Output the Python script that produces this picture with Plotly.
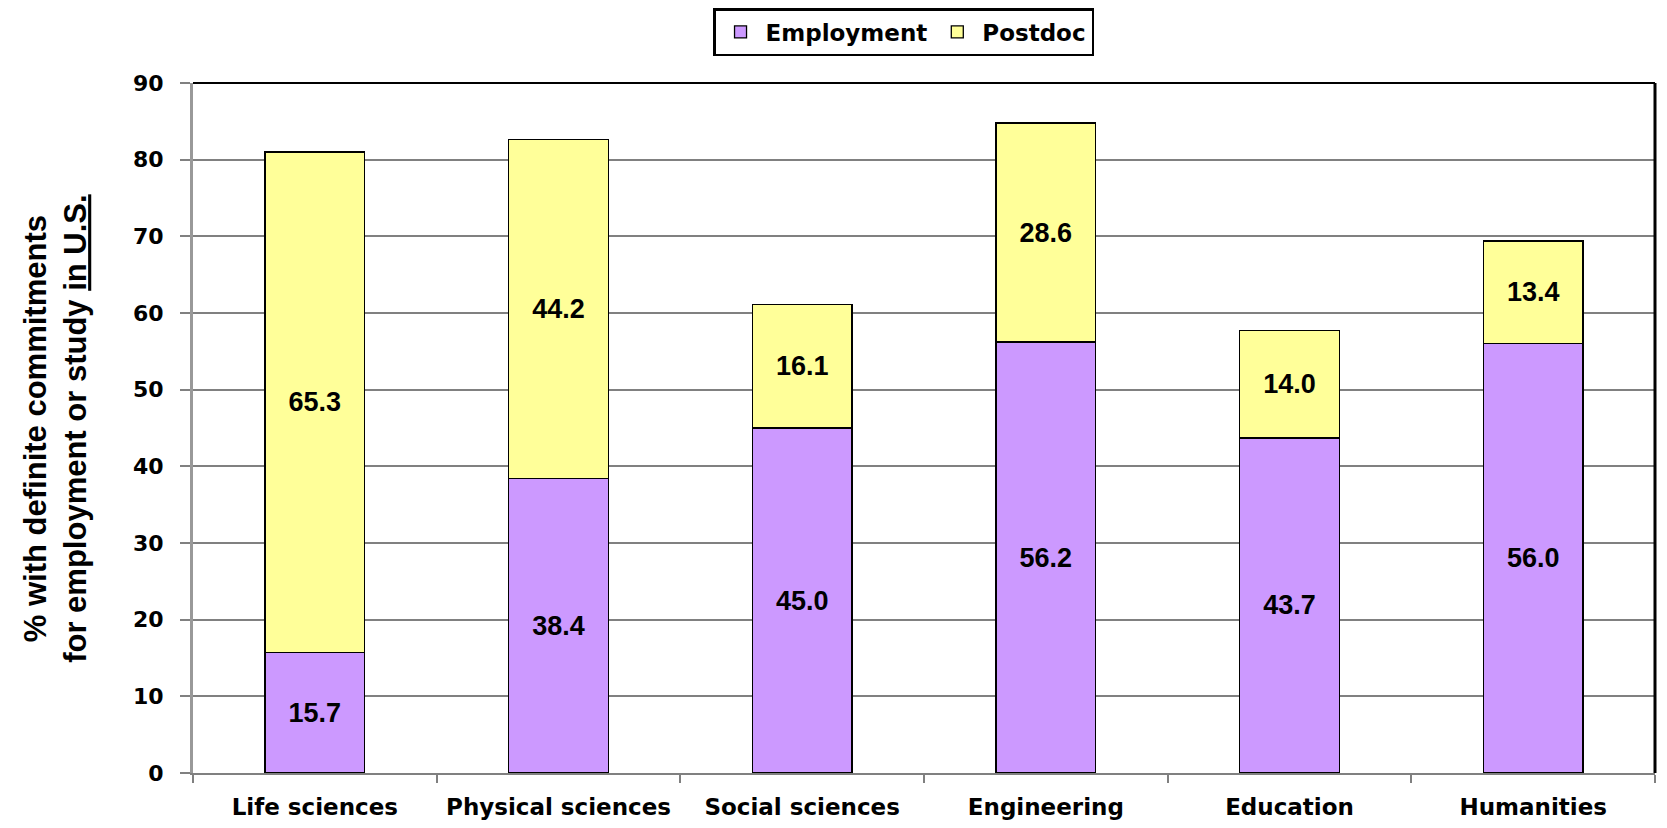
import plotly.graph_objects as go

categories = ["Life sciences", "Physical sciences", "Social sciences", "Engineering", "Education", "Humanities"]
employment = [15.7, 38.4, 45.0, 56.2, 43.7, 56.0]
postdoc = [65.3, 44.2, 16.1, 28.6, 14.0, 13.4]
y_ticks = [0, 10, 20, 30, 40, 50, 60, 70, 80, 90]

FONT = "Liberation Sans, Arial, sans-serif"
HEAVY = "DejaVu Sans, Verdana, sans-serif"
lbl = dict(family=FONT, size=27, color="black", weight="bold")

fig = go.Figure()
fig.add_trace(go.Bar(
    name="Employment", x=categories, y=employment,
    marker=dict(color="#CC99FF", line=dict(color="black", width=1.3)),
    texttemplate="%{y:.1f}", textposition="inside", insidetextanchor="middle",
    textfont=lbl, constraintext="none", textangle=0,
))
fig.add_trace(go.Bar(
    name="Postdoc", x=categories, y=postdoc,
    marker=dict(color="#FFFF99", line=dict(color="black", width=1.3)),
    texttemplate="%{y:.1f}", textposition="inside", insidetextanchor="middle",
    textfont=lbl, constraintext="none", textangle=0,
))

fig.update_layout(
    barmode="stack",
    bargap=0.59,
    width=1667, height=828,
    paper_bgcolor="white", plot_bgcolor="white",
    margin=dict(l=185, r=20, t=75, b=63, autoexpand=False),
    font=dict(family=FONT, color="black"),
    showlegend=True,
    legend=dict(
        orientation="h", x=0.486, xref="paper", xanchor="center",
        y=1.0, yref="container", yanchor="top",
        bordercolor="black", borderwidth=2.5, bgcolor="white",
        font=dict(family=HEAVY, size=23, color="black", weight="bold"),
        itemwidth=40, traceorder="normal",
    ),
    xaxis=dict(
        type="category", showgrid=False, showline=True, linecolor="#808080", linewidth=2,
        ticks="outside", tickson="boundaries", ticklen=8, tickcolor="#808080", tickwidth=2,
        tickfont=dict(family=HEAVY, size=23, color="black", weight="bold"),
        ticklabelstandoff=12, automargin=False,
    ),
    yaxis=dict(
        range=[0, 90], tickvals=y_ticks, showgrid=True, gridcolor="#808080", gridwidth=1.5,
        showline=True, linecolor="#999999", linewidth=3,
        ticks="outside", ticklen=10, tickcolor="#808080", tickwidth=1.5,
        tickfont=dict(family=HEAVY, size=22, color="black", weight="bold"),
        ticklabelstandoff=12, zeroline=False, automargin=False,
    ),
    annotations=[dict(
        text="% with definite commitments<br>for employment or study <u>in U.S.</u>",
        xref="paper", yref="paper", x=-0.0945, y=0.5, xanchor="center", yanchor="middle",
        textangle=-90, showarrow=False,
        font=dict(family=FONT, size=31, color="black", weight="bold"),
    )],
    shapes=[
        dict(type="line", xref="paper", yref="paper", x0=0, x1=1, y0=1, y1=1,
             line=dict(color="black", width=2)),
        dict(type="line", xref="paper", yref="paper", x0=1, x1=1, y0=0, y1=1,
             line=dict(color="black", width=3)),
    ],
)

fig.write_html("out.html")
